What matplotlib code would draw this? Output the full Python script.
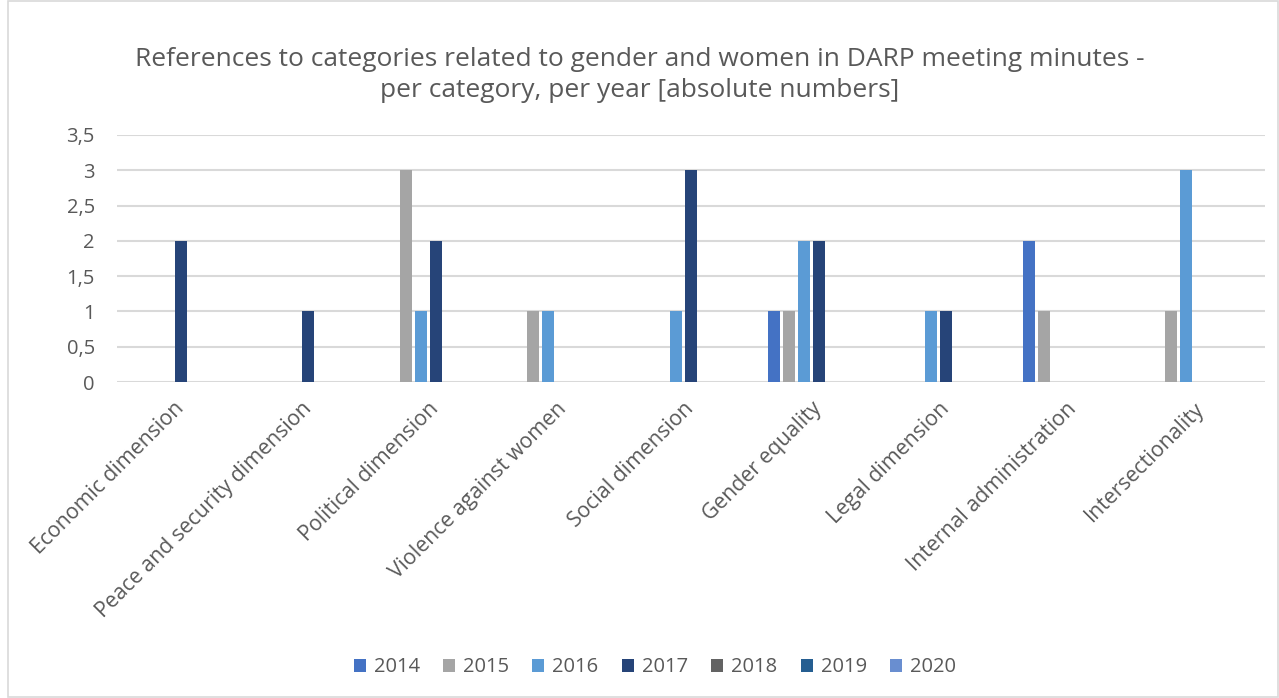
import numpy as np
import matplotlib
matplotlib.use("Agg")
import matplotlib.pyplot as plt
from matplotlib.patches import Rectangle
from matplotlib.ticker import FuncFormatter

plt.rcParams['font.family'] = ['Open Sans', 'DejaVu Sans']

categories = ["Economic dimension", "Peace and security dimension", "Political dimension",
              "Violence against women", "Social dimension", "Gender equality",
              "Legal dimension", "Internal administration", "Intersectionality"]
years = ["2014", "2015", "2016", "2017", "2018", "2019", "2020"]
colors = ["#4472C4", "#A5A5A5", "#5B9BD5", "#264478", "#636363", "#255E91", "#698ED0"]

v2014 = [0, 0, 0, 0, 0, 1, 0, 2, 0]
v2015 = [0, 0, 3, 1, 0, 1, 0, 1, 1]
v2016 = [0, 0, 1, 1, 1, 2, 1, 0, 3]
v2017 = [2, 1, 2, 0, 3, 2, 1, 0, 0]
v2018 = [0, 0, 0, 0, 0, 0, 0, 0, 0]
v2019 = [0, 0, 0, 0, 0, 0, 0, 0, 0]
v2020 = [0, 0, 0, 0, 0, 0, 0, 0, 0]
series = [v2014, v2015, v2016, v2017, v2018, v2019, v2020]

fig = plt.figure(figsize=(12.79, 6.98), dpi=100)
fig.patches.append(Rectangle((0.006, 0.001), 0.993, 0.998, transform=fig.transFigure,
                             fill=False, edgecolor="#D9D9D9", linewidth=1.2))
ax = fig.add_axes([0.0915, 0.4527, 0.8975, 0.3539])

x = np.arange(len(categories))
slot = 0.1175
width = 0.094
for i, (yr, vals, c) in enumerate(zip(years, series, colors)):
    ax.bar(x + (i - 3) * slot, vals, width=width, color=c, label=yr, zorder=3)

ax.set_xlim(-0.5, len(categories) - 0.5)
ax.set_ylim(0, 3.5)
ax.set_yticks(np.arange(0, 3.51, 0.5))
ax.yaxis.set_major_formatter(FuncFormatter(lambda v, p: ("%g" % v).replace(".", ",")))
ax.grid(axis="y", color="#D9D9D9", linewidth=1.5, zorder=0)
for s in ax.spines.values():
    s.set_visible(False)
ax.tick_params(axis="both", length=0, labelsize=14.5, labelcolor="#595959")
ax.tick_params(axis="y", pad=16)
ax.set_xticks(x)
ax.set_xticklabels(categories, rotation=45, ha="right", rotation_mode="anchor", va="center",
                   fontsize=15.3)
ax.tick_params(axis="x", pad=17)

fig.text(0.5, 0.893, "References to categories related to gender and women in DARP meeting minutes -\nper category, per year [absolute numbers]",
         ha="center", va="center", fontsize=19, color="#595959", linespacing=1.3)

fig.legend(loc="center", bbox_to_anchor=(0.512, 0.044), ncol=7, frameon=False,
           fontsize=14.5, labelcolor="#595959", handlelength=0.6, handleheight=0.6,
           columnspacing=1.15, handletextpad=0.4)

fig.savefig("out.png", dpi=100)
